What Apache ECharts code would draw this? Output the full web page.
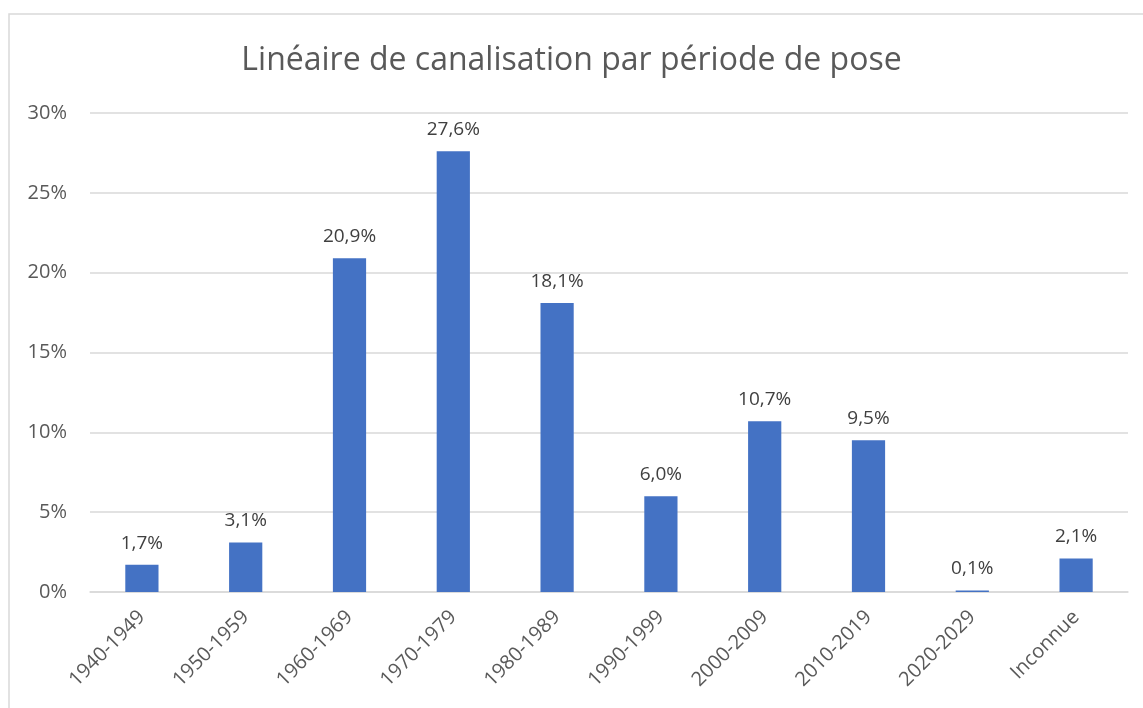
<!DOCTYPE html>
<html>
    <head>
        <meta charset="utf-8">
        <script src="https://cdn.jsdelivr.net/npm/echarts@6/dist/echarts.min.js"></script>
        <style>
            html, body { margin: 0; padding: 0; background: #fff; }
        </style>
    </head>
    <body>
        <div id="main" style="width: 1143px;height:708px;"></div>
        <script type="text/javascript">
            // données
            var periodes = ['1940-1949', '1950-1959', '1960-1969', '1970-1979', '1980-1989',
                '1990-1999', '2000-2009', '2010-2019', '2020-2029', 'Inconnue'];
            var parts = [1.7, 3.1, 20.9, 27.6, 18.1, 6.0, 10.7, 9.5, 0.1, 2.1];
            var titre = 'Linéaire de canalisation par période de pose';

            var myChart = echarts.init(document.getElementById('main'));
            var police = '"Open Sans", "Noto Sans", sans-serif';

            var option = {
                backgroundColor: '#fff',
                animation: false,
                textStyle: { fontFamily: police },
                title: {
                    text: titre,
                    left: 'center',
                    top: 40,
                    textStyle: { fontSize: 32, fontWeight: 'normal', color: '#595959', fontFamily: police }
                },
                graphic: [{
                    type: 'rect',
                    shape: { x: 9, y: 14, width: 1150, height: 720 },
                    style: { fill: 'none', stroke: '#d9d9d9', lineWidth: 1.5 },
                    silent: true
                }],
                grid: { left: 90, right: 15, top: 113, bottom: 116 },
                xAxis: {
                    type: 'category',
                    data: periodes,
                    axisLine: { lineStyle: { color: '#d9d9d9', width: 1.5 } },
                    axisTick: { show: false },
                    axisLabel: {
                        rotate: 45,
                        color: '#595959',
                        fontSize: 20,
                        margin: 22,
                        interval: 0
                    }
                },
                yAxis: {
                    type: 'value',
                    min: 0,
                    max: 30,
                    interval: 5,
                    axisLine: { show: false },
                    axisTick: { show: false },
                    splitLine: { lineStyle: { color: '#d9d9d9', width: 1.5 } },
                    axisLabel: {
                        color: '#595959',
                        fontSize: 20,
                        margin: 23,
                        formatter: function (v) { return v + '%'; }
                    }
                },
                series: [{
                    type: 'bar',
                    data: parts,
                    barWidth: '32%',
                    itemStyle: { color: '#4472c4' },
                    label: {
                        show: true,
                        position: 'top',
                        distance: 12,
                        color: '#404040',
                        fontSize: 19,
                        formatter: function (p) { return p.value.toFixed(1).replace('.', ',') + '%'; }
                    }
                }]
            };

            myChart.setOption(option);
        </script>
    </body>
</html>
